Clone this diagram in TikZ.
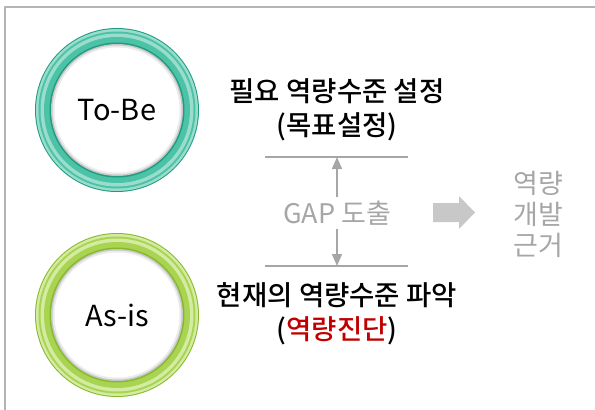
\documentclass[tikz,border=0pt]{standalone}
\usepackage{fontspec}
\setmainfont{Noto Sans CJK KR}
\newfontfamily\midfont{Noto Sans CJK KR Medium}
\usetikzlibrary{arrows.meta,positioning}
\definecolor{frameGray}{HTML}{B4B4B4}
\definecolor{lineGray}{HTML}{A6A6A6}
\definecolor{textGray}{HTML}{A6A6A6}
\definecolor{blockGray}{HTML}{C8C8C8}
\definecolor{keyRed}{HTML}{C00000}
\definecolor{tealDark}{HTML}{1E9C80}
\definecolor{tealMain}{HTML}{4CC2A7}
\definecolor{tealLight}{HTML}{9ADDCD}
\definecolor{limeDark}{HTML}{86B92A}
\definecolor{limeMain}{HTML}{A9D451}
\definecolor{limeLight}{HTML}{D3EBA2}
\tikzset{
  ringlabel/.style={circle,minimum size=130pt,inner sep=0pt,font=\fontsize{29}{34}\selectfont},
  headline/.style={align=center,font=\midfont\fontsize{27.5}{34}\selectfont},
  gapline/.style={lineGray,line width=1.5pt},
  gaptext/.style={textGray,font=\fontsize{27}{31}\selectfont,align=center}
}
\begin{document}
\begin{tikzpicture}[x=1pt,y=-1pt,>={Triangle[width=10pt,length=12pt]},line join=round]
\useasboundingbox (0,0) rectangle (595,410);
% --- frame
\draw[frameGray,line width=1.5pt] (595,7) -- (5,7) -- (5,410);
% --- the two rings
\foreach \nm/\yc/\cd/\cm/\cl in {tobe/110/tealDark/tealMain/tealLight,asis/315/limeDark/limeMain/limeLight} {
  \fill[\cd] (117,\yc) circle[radius=82pt];
  \fill[\cl] (117,\yc) circle[radius=81pt];
  \fill[\cm] (117,\yc) circle[radius=78.5pt];
  \fill[\cl] (117,\yc) circle[radius=76.5pt];
  \fill[\cm] (117,\yc) circle[radius=73pt];
  \fill[\cd] (117,\yc) circle[radius=67.5pt];
  \fill[black!22] (117,\yc) circle[radius=66pt];
  \fill[black!8] (117,\yc) circle[radius=64.5pt];
  \fill[white] (117,\yc) circle[radius=62.5pt];
}
\node[ringlabel] (tobe) at (117,110) {To-Be};
\node[ringlabel] (asis) at (117,315) {As-is};
% --- levels
\node[headline] (target) at (337,110) {필요 역량수준 설정\\(목표설정)};
\node[headline] (current) at (337,314) {현재의 역량수준 파악\\({\color{keyRed}역량진단})};
\coordinate (upL) at (265,157); \coordinate (upR) at (408,157);
\coordinate (loL) at (265,266); \coordinate (loR) at (408,266);
\draw[gapline] (upL) -- (upR);
\draw[gapline] (loL) -- (loR);
\node[gaptext] (gap) at (337,213) {GAP 도출};
\draw[gapline,->] (gap.north) -- (gap.north |- upL);
\draw[gapline,->] (gap.south) -- (gap.south |- loL);
% --- result
\fill[blockGray] (433,203) -- (459,203) -- (459,196) -- (475,212.5) -- (459,229) -- (459,222) -- (433,222) -- cycle;
\node[gaptext] (basis) at (538,214) {역량\\개발\\근거};
\end{tikzpicture}
\end{document}
